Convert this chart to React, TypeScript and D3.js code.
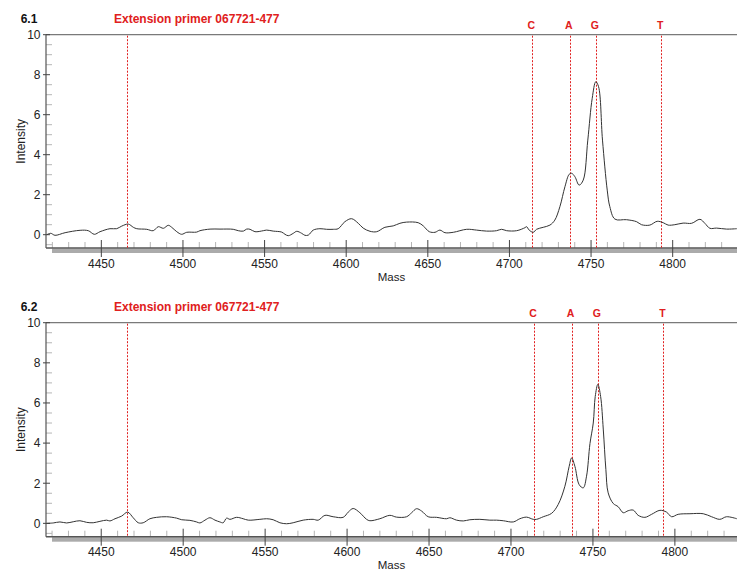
import { useEffect, useRef } from "react";
import * as d3 from "d3";

// spectrum 6.1
const mass1 = [
  4416.6, 4419.0, 4421.6, 4427.8, 4437.0, 4442.0, 4445.7, 4449.2, 4455.3, 4459.4,
  4462.5, 4466.5, 4469.6, 4471.7, 4477.8, 4481.8, 4484.9, 4488.0, 4491.0, 4493.1,
  4496.2, 4499.2, 4502.3, 4508.4, 4510.4, 4516.6, 4522.7, 4530.8, 4533.9, 4537.0,
  4539.0, 4541.1, 4544.1, 4549.2, 4551.3, 4555.3, 4560.5, 4562.5, 4564.5, 4567.6,
  4569.7, 4572.7, 4574.7, 4576.8, 4579.8, 4583.9, 4588.0, 4592.1, 4595.1, 4599.2,
  4603.3, 4607.4, 4610.4, 4614.6, 4618.7, 4623.7, 4628.8, 4632.9, 4637.0, 4644.1,
  4647.2, 4650.9, 4654.4, 4657.4, 4660.5, 4665.6, 4673.8, 4679.9, 4686.0, 4692.1,
  4695.2, 4698.3, 4704.4, 4709.5, 4710.5, 4712.1, 4714.6, 4716.6, 4720.7, 4724.8,
  4727.8, 4730.9, 4734.0, 4736.6, 4738.1, 4740.1, 4742.7, 4745.2, 4748.0, 4750.7,
  4752.9, 4754.6, 4757.0, 4759.9, 4761.5, 4764.6, 4771.7, 4777.9, 4780.9, 4786.0,
  4790.5, 4794.2, 4797.2, 4801.3, 4806.4, 4811.6, 4816.7, 4819.7, 4822.8, 4826.9,
  4833.0, 4839.3,
];
const int1 = [
  0.0, 0.07, -0.03, 0.1, 0.22, 0.2, 0.02, 0.15, 0.3, 0.3,
  0.43, 0.53, 0.37, 0.3, 0.27, 0.2, 0.4, 0.32, 0.47, 0.37,
  0.15, 0.02, 0.12, 0.13, 0.2, 0.28, 0.28, 0.27, 0.2, 0.18,
  0.28, 0.27, 0.15, 0.2, 0.23, 0.18, 0.13, 0.02, -0.05, 0.07,
  0.17, 0.07, -0.03, -0.02, 0.23, 0.3, 0.27, 0.27, 0.3, 0.65,
  0.8, 0.57, 0.33, 0.17, 0.15, 0.37, 0.44, 0.57, 0.63, 0.6,
  0.44, 0.15, 0.12, 0.23, 0.1, 0.12, 0.27, 0.23, 0.18, 0.2,
  0.27, 0.2, 0.2, 0.35, 0.4, 0.23, 0.12, 0.27, 0.37, 0.48,
  0.73, 1.4, 2.4, 3.02, 3.07, 2.9, 2.48, 2.73, 4.73, 6.82,
  7.65, 7.4, 4.73, 2.23, 1.4, 0.78, 0.75, 0.65, 0.5, 0.48,
  0.67, 0.6, 0.48, 0.5, 0.58, 0.57, 0.77, 0.57, 0.32, 0.33,
  0.28, 0.3,
];

// spectrum 6.2
const mass2 = [
  4416.7, 4420.7, 4424.8, 4428.9, 4432.9, 4437.0, 4441.1, 4445.1, 4449.2, 4453.3,
  4455.3, 4458.4, 4462.4, 4466.1, 4469.5, 4472.6, 4475.6, 4479.7, 4483.8, 4489.9,
  4496.0, 4499.1, 4504.1, 4508.2, 4510.2, 4513.3, 4516.3, 4519.4, 4522.4, 4524.4,
  4526.5, 4528.5, 4532.6, 4536.6, 4539.7, 4546.8, 4550.9, 4554.9, 4559.0, 4563.1,
  4567.1, 4573.2, 4579.3, 4582.4, 4586.5, 4591.5, 4597.6, 4600.7, 4603.7, 4607.8,
  4611.9, 4613.9, 4620.0, 4626.1, 4630.2, 4636.3, 4639.4, 4642.4, 4645.5, 4649.5,
  4654.6, 4660.7, 4662.7, 4666.8, 4670.9, 4674.9, 4681.0, 4687.1, 4691.2, 4695.3,
  4701.4, 4705.4, 4709.5, 4713.6, 4715.6, 4719.7, 4724.8, 4728.8, 4732.9, 4735.5,
  4737.0, 4739.0, 4741.6, 4744.1, 4746.1, 4748.2, 4750.2, 4751.4, 4753.0, 4754.7,
  4756.3, 4757.9, 4759.3, 4762.4, 4765.4, 4768.5, 4771.5, 4774.6, 4777.6, 4781.7,
  4785.8, 4790.9, 4794.9, 4798.0, 4802.0, 4809.2, 4817.3, 4822.4, 4827.4, 4831.5,
  4837.8,
];
const int2 = [
  0.0, 0.02, 0.07, 0.02, 0.08, 0.13, 0.05, 0.03, 0.1, 0.16,
  0.12, 0.23, 0.36, 0.56, 0.28, 0.03, 0.03, 0.23, 0.3, 0.33,
  0.26, 0.18, 0.15, 0.07, 0.02, 0.16, 0.28, 0.16, 0.07, 0.03,
  0.26, 0.2, 0.3, 0.23, 0.16, 0.2, 0.23, 0.18, 0.03, -0.02,
  0.03, 0.16, 0.2, 0.16, 0.4, 0.33, 0.3, 0.56, 0.74, 0.53,
  0.2, 0.13, 0.23, 0.4, 0.31, 0.33, 0.53, 0.73, 0.61, 0.33,
  0.3, 0.23, 0.28, 0.16, 0.12, 0.18, 0.2, 0.16, 0.16, 0.13,
  0.07, 0.23, 0.31, 0.2, 0.2, 0.33, 0.5, 0.94, 1.85, 2.84,
  3.26, 2.84, 1.93, 1.77, 2.35, 3.98, 5.0, 6.32, 6.93, 6.32,
  4.7, 2.68, 1.52, 0.99, 0.83, 0.53, 0.63, 0.66, 0.4, 0.3,
  0.45, 0.65, 0.56, 0.33, 0.45, 0.48, 0.48, 0.33, 0.2, 0.33,
  0.23,
];

const markerMasses = [4714, 4737, 4753, 4793];
const markerLabels = ["C", "A", "G", "T"];
const primerMass = 4466;
const primerLabel = "Extension primer 067721-477";
const xTicks = [4450, 4500, 4550, 4600, 4650, 4700, 4750, 4800];
const yTicks = [0, 2, 4, 6, 8, 10];

const panels = [
  { id: "6.1", mass: mass1, intensity: int1, top: 34.7, bottom: 248, xDomain: [4416.1, 4839.4] },
  { id: "6.2", mass: mass2, intensity: int2, top: 322.7, bottom: 536.7, xDomain: [4416.3, 4837.9] },
];

const width = 737;
const height = 569;
const left = 46;
const font = "'Liberation Sans', Arial, sans-serif";
const red = "#e02020";

const App = () => {
  const svgRef = useRef<SVGSVGElement | null>(null);

  useEffect(() => {
    const svg = d3.select(svgRef.current);
    svg.selectAll("*").remove();

    panels.forEach((p) => {
      const x = d3.scaleLinear().domain(p.xDomain).range([left, width]);
      const y = d3.scaleLinear().domain([-0.665, 10]).range([p.bottom, p.top]);
      const g = svg.append("g");

      // top frame line
      g.append("line")
        .attr("x1", left).attr("x2", width)
        .attr("y1", p.top).attr("y2", p.top)
        .attr("stroke", "#7a7a7a").attr("stroke-width", 1.2);

      // minor x ticks
      const minor = d3.range(4420, 4840, 10).filter((v) => v % 50 !== 0);
      g.selectAll(".xminor")
        .data(minor)
        .enter()
        .append("line")
        .attr("x1", (d) => x(d)).attr("x2", (d) => x(d))
        .attr("y1", p.bottom - 6).attr("y2", p.bottom)
        .attr("stroke", "#b5b5b5");

      // minor y ticks
      const yMinor = d3.range(-0.5, 10, 0.5).filter((v) => v % 2 !== 0);
      g.selectAll(".yminor")
        .data(yMinor)
        .enter()
        .append("line")
        .attr("x1", left).attr("x2", left + 6)
        .attr("y1", (d) => y(d)).attr("y2", (d) => y(d))
        .attr("stroke", "#b5b5b5");

      // gray band under x axis
      g.append("rect")
        .attr("x", 52).attr("y", p.bottom + 0.5)
        .attr("width", width - 52).attr("height", 4.5)
        .attr("fill", "#ababab");

      // x axis line
      g.append("line")
        .attr("x1", left).attr("x2", width)
        .attr("y1", p.bottom).attr("y2", p.bottom)
        .attr("stroke", "#555").attr("stroke-width", 1.5);

      // y axis line
      g.append("line")
        .attr("x1", left).attr("x2", left)
        .attr("y1", p.top).attr("y2", p.bottom)
        .attr("stroke", "#555").attr("stroke-width", 1.2);

      // major x ticks + labels
      xTicks.forEach((t) => {
        g.append("line")
          .attr("x1", x(t)).attr("x2", x(t))
          .attr("y1", p.bottom - 8).attr("y2", p.bottom + 9)
          .attr("stroke", "#444");
        g.append("text")
          .attr("x", x(t)).attr("y", p.bottom + 19.5)
          .attr("text-anchor", "middle")
          .style("font-family", font).style("font-size", "12px")
          .style("fill", "#222")
          .text(t);
      });

      // major y ticks + labels
      yTicks.forEach((t) => {
        g.append("line")
          .attr("x1", left - 3).attr("x2", left + 4)
          .attr("y1", y(t)).attr("y2", y(t))
          .attr("stroke", "#444");
        g.append("text")
          .attr("x", 40.5).attr("y", y(t))
          .attr("dy", "0.36em")
          .attr("text-anchor", "end")
          .style("font-family", font).style("font-size", "12px")
          .style("fill", "#222")
          .text(t);
      });

      // marker lines (snapped to pixel centres so the dots stay crisp red)
      [primerMass, ...markerMasses].forEach((m) => {
        const px = Math.round(x(m)) + 0.5;
        g.append("line")
          .attr("x1", px).attr("x2", px)
          .attr("y1", p.top + 1).attr("y2", p.bottom)
          .attr("stroke", red)
          .attr("stroke-dasharray", "2,1.5");
      });

      markerMasses.forEach((m, i) => {
        g.append("text")
          .attr("x", x(m) - 1).attr("y", p.top - 6)
          .attr("text-anchor", "middle")
          .style("font-family", font).style("font-size", "10.5px")
          .style("font-weight", "bold").style("fill", red)
          .text(markerLabels[i]);
      });

      // spectrum trace
      const pts = p.mass.map((m, i) => [m, p.intensity[i]] as [number, number]);
      const line = d3
        .line<[number, number]>()
        .x((d) => x(d[0]))
        .y((d) => y(d[1]))
        .curve(d3.curveCatmullRom.alpha(0.5));
      g.append("path")
        .attr("d", line(pts))
        .attr("fill", "none")
        .attr("stroke", "#333")
        .attr("stroke-width", 1);

      // titles
      g.append("text")
        .attr("x", 29).attr("y", p.top - 11.5)
        .attr("text-anchor", "middle")
        .style("font-family", font).style("font-size", "12px")
        .style("font-weight", "bold").style("fill", "#111")
        .text(p.id);
      g.append("text")
        .attr("x", 114).attr("y", p.top - 11.5)
        .style("font-family", font).style("font-size", "12px")
        .style("font-weight", "bold").style("fill", red)
        .text(primerLabel);

      // axis labels
      g.append("text")
        .attr("x", (left + width) / 2).attr("y", p.bottom + 32.5)
        .attr("text-anchor", "middle")
        .style("font-family", font).style("font-size", "11.5px")
        .style("fill", "#222")
        .text("Mass");
      g.append("text")
        .attr("transform", `translate(25,${(p.top + p.bottom) / 2}) rotate(-90)`)
        .attr("text-anchor", "middle")
        .style("font-family", font).style("font-size", "12px")
        .style("fill", "#222")
        .text("Intensity");
    });
  }, []);

  return (
    <svg
      ref={svgRef}
      width={width}
      height={height}
      style={{ position: "absolute", left: 0, top: 0, background: "#fff" }}
    />
  );
};

export default App;
